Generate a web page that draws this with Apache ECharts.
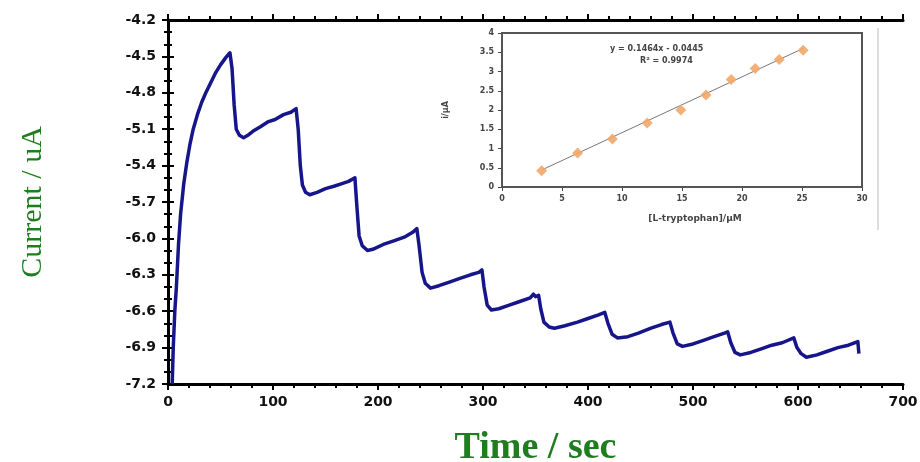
<!DOCTYPE html>
<html>
<head>
<meta charset="utf-8">
<script src="https://cdn.jsdelivr.net/npm/echarts@6/dist/echarts.min.js"></script>
<style>
  html, body { margin: 0; padding: 0; background: #fff; }
  #chart { width: 920px; height: 462px; }
</style>
</head>
<body>
<div id="chart"></div>
<script>
// amperometric trace: [time s, current uA]
const trace = [
  [4, -7.2], [5, -6.9], [6.5, -6.6], [8, -6.4], [10, -6.05], [12, -5.8], [15, -5.55],
  [18, -5.37], [21, -5.22], [24, -5.1], [28, -4.98], [32, -4.88], [36, -4.8], [40, -4.73],
  [45, -4.64], [50, -4.57], [55, -4.51], [59, -4.47], [61, -4.6], [63, -4.9], [65, -5.1],
  [68, -5.15], [72, -5.17], [76, -5.15], [82, -5.11], [88, -5.08], [95, -5.04], [102, -5.02],
  [110, -4.98], [117, -4.96], [122, -4.93], [124, -5.1], [126, -5.4], [128, -5.56], [131, -5.62],
  [135, -5.64], [142, -5.62], [150, -5.59], [158, -5.57], [165, -5.55], [172, -5.53], [176, -5.51],
  [178, -5.5], [180, -5.75], [182, -5.98], [185, -6.06], [190, -6.1], [195, -6.09], [205, -6.05],
  [215, -6.02], [225, -5.99], [233, -5.95], [237, -5.92], [239, -6.05], [242, -6.28], [245, -6.37],
  [250, -6.41], [258, -6.39], [268, -6.36], [278, -6.33], [288, -6.3], [296, -6.28], [299, -6.26],
  [301, -6.4], [304, -6.55], [308, -6.59], [315, -6.58], [325, -6.55], [335, -6.52], [345, -6.49],
  [348, -6.46], [350, -6.48], [353, -6.47], [355, -6.58], [358, -6.69], [363, -6.73], [368, -6.74],
  [378, -6.72], [390, -6.69], [400, -6.66], [410, -6.63], [416, -6.61], [419, -6.7], [423, -6.79],
  [428, -6.82], [438, -6.81], [448, -6.78], [460, -6.74], [470, -6.71], [478, -6.69], [481, -6.78],
  [485, -6.87], [490, -6.89], [500, -6.87], [510, -6.84], [520, -6.81], [530, -6.78], [533, -6.77],
  [536, -6.86], [540, -6.94], [545, -6.96], [555, -6.94], [565, -6.91], [575, -6.88], [585, -6.86],
  [596, -6.82], [599, -6.9], [603, -6.95], [608, -6.98], [618, -6.96], [628, -6.93], [638, -6.9],
  [648, -6.88], [657, -6.85], [658, -6.95]
];

// inset calibration: [L-tryptophan] uM vs i uA
const conc = [3.3, 6.3, 9.2, 12.1, 14.9, 17.0, 19.1, 21.1, 23.1, 25.1];
const current = [0.42, 0.88, 1.25, 1.66, 2.0, 2.39, 2.79, 3.08, 3.31, 3.55];
const fitLine = [[3.3, 0.44], [25.1, 3.6]];
const fitText = ['y = 0.1464x - 0.0445', 'R\u00b2 = 0.9974'];

const green = '#1f7d1f';
const axisFont = { color: '#111', fontFamily: 'DejaVu Sans', fontWeight: 'bold', fontSize: 14 };

const mainTick = { show: true, length: 6, lineStyle: { width: 2, color: '#000' } };
const mainMinor = { show: true, length: 4, lineStyle: { width: 2, color: '#000' } };
const mainLine = { show: true, lineStyle: { width: 3, color: '#000' } };

const option = {
  backgroundColor: '#fff',
  animation: false,
  grid: [
    { left: 168, right: 17, top: 20, bottom: 78, outerBoundsMode: 'none', containLabel: false },
    { left: 502, right: 58, top: 33, bottom: 275, show: true, outerBoundsMode: 'none', containLabel: false,
      backgroundColor: '#fff', borderColor: '#555', borderWidth: 2, z: 3 }
  ],
  xAxis: [
    {
      gridIndex: 0, type: 'value', min: 0, max: 700, interval: 100,
      axisLine: mainLine, axisTick: mainTick, minorTick: Object.assign({ splitNumber: 5 }, mainMinor),
      splitLine: { show: false },
      axisLabel: Object.assign({ margin: 11 }, axisFont),
      name: 'Time / sec', nameLocation: 'middle', nameGap: 45,
      nameTextStyle: { color: green, fontFamily: 'Liberation Serif', fontWeight: 'bold', fontSize: 38 }
    },
    {
      gridIndex: 0, type: 'value', position: 'top', min: 0, max: 700, interval: 100,
      axisLine: mainLine, axisTick: mainTick, minorTick: Object.assign({ splitNumber: 5 }, mainMinor),
      splitLine: { show: false }, axisLabel: { show: false }
    },
    {
      gridIndex: 1, type: 'value', min: 0, max: 30, interval: 5,
      axisLine: { show: true, lineStyle: { color: '#444', width: 2 } },
      axisTick: { show: true, length: 4, lineStyle: { color: '#444' } },
      splitLine: { show: false },
      axisLabel: { color: '#444', fontFamily: 'DejaVu Sans', fontWeight: 'bold', fontSize: 8, margin: 8 },
      name: '[L-tryptophan]/\u00b5M', nameLocation: 'middle', nameGap: 27,
      nameTextStyle: { color: '#444', fontFamily: 'DejaVu Sans', fontWeight: 'bold', fontSize: 9, padding: [0, 0, 0, 26] }
    }
  ],
  yAxis: [
    {
      gridIndex: 0, type: 'value', min: -7.2, max: -4.2, interval: 0.3,
      axisLine: mainLine, axisTick: mainTick, minorTick: Object.assign({ splitNumber: 3 }, mainMinor),
      splitLine: { show: false },
      axisLabel: Object.assign({ margin: 12, formatter: v => v.toFixed(1) }, axisFont),
      name: 'Current / uA', nameLocation: 'middle', nameGap: 120, nameRotate: 90,
      nameTextStyle: { color: green, fontFamily: 'Liberation Serif', fontSize: 30 }
    },
    {
      gridIndex: 0, type: 'value', position: 'right', min: -7.2, max: -4.2, interval: 0.3,
      axisLine: mainLine, axisTick: mainTick, minorTick: Object.assign({ splitNumber: 3 }, mainMinor),
      splitLine: { show: false }, axisLabel: { show: false }
    },
    {
      gridIndex: 1, type: 'value', min: 0, max: 4, interval: 0.5,
      axisLine: { show: true, lineStyle: { color: '#444', width: 2 } },
      axisTick: { show: true, length: 4, lineStyle: { color: '#444' } },
      splitLine: { show: false },
      axisLabel: { color: '#444', fontFamily: 'DejaVu Sans', fontWeight: 'bold', fontSize: 8, margin: 8 },
      name: 'i/\u00b5A', nameLocation: 'middle', nameGap: 52, nameRotate: 90,
      nameTextStyle: { color: '#444', fontFamily: 'DejaVu Sans', fontWeight: 'bold', fontSize: 8 }
    }
  ],
  graphic: [
    { type: 'line', shape: { x1: 878, y1: 28, x2: 878, y2: 230 }, style: { stroke: '#bbb', lineWidth: 1 } },
    { type: 'text', left: 610, top: 45, z: 10,
      style: { text: fitText[0], fill: '#444', font: 'bold 8px DejaVu Sans' } },
    { type: 'text', left: 640, top: 57, z: 10,
      style: { text: fitText[1], fill: '#444', font: 'bold 8px DejaVu Sans' } }
  ],
  series: [
    {
      type: 'line', xAxisIndex: 0, yAxisIndex: 0, data: trace,
      showSymbol: false, smooth: false, clip: true,
      lineStyle: { color: '#16168a', width: 3.5, join: 'round' }
    },
    {
      type: 'line', xAxisIndex: 2, yAxisIndex: 2, data: fitLine,
      showSymbol: false, z: 4,
      lineStyle: { color: '#777', width: 1 }
    },
    {
      type: 'scatter', xAxisIndex: 2, yAxisIndex: 2,
      data: conc.map((c, i) => [c, current[i]]),
      symbol: 'diamond', symbolSize: 11, z: 5,
      itemStyle: { color: '#f2a86c', opacity: 0.9 }
    }
  ]
};

const chart = echarts.init(document.getElementById('chart'));
chart.setOption(option);
</script>
</body>
</html>
